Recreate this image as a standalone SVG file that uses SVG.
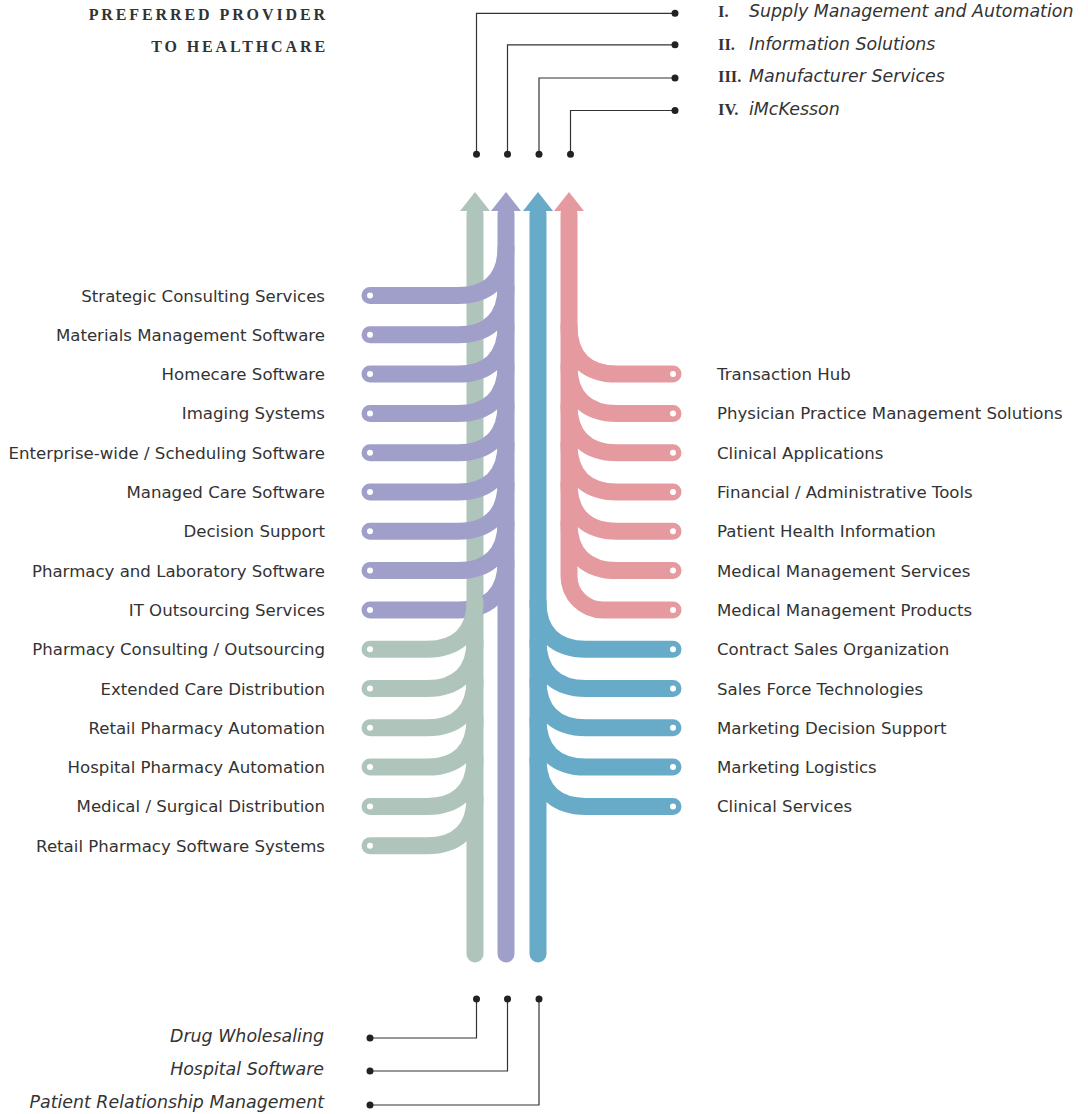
<svg xmlns="http://www.w3.org/2000/svg" width="1088" height="1114" viewBox="0 0 1088 1114">
<style>
.lbl{font-family:"DejaVu Sans","Liberation Sans",sans-serif;font-size:16.6px;fill:#333}
.l{text-anchor:end}
.it{font-family:"DejaVu Sans","Liberation Sans",sans-serif;font-style:italic;font-size:17.4px;fill:#333}
.num{font-family:"Liberation Serif",serif;font-weight:bold;font-size:16.5px;fill:#333}
.title{font-family:"Liberation Serif",serif;font-weight:bold;font-size:16px;letter-spacing:2.9px;fill:#333;text-anchor:end}
.br{fill:none;stroke-width:17;stroke-linecap:round}
.g{stroke:#AFC5BC}.p{stroke:#A09FCA}.b{stroke:#68ABC8}.k{stroke:#E59AA0}
.dot{fill:#fff}
.ln{fill:none;stroke:#333;stroke-width:1.2}
.bd{fill:#222}
</style>

<g id="title">
<text class="title" x="328" y="20">PREFERRED PROVIDER</text>
<text class="title" x="328" y="52">TO HEALTHCARE</text>
</g>

<g id="streams">
<path class="br g" d="M475,214 V954"/>
<polygon fill="#AFC5BC" points="460,211 475,192 490,211"/>
<path class="br p" d="M506,214 V954"/>
<polygon fill="#A09FCA" points="491,211 506,192 521,211"/>
<path class="br b" d="M538,214 V954"/>
<polygon fill="#68ABC8" points="523,211 538,192 553,211"/>
<path class="br k" d="M569,214 V575.9 A34,34 0 0 0 603,609.9 H673"/>
<polygon fill="#E59AA0" points="554,211 569,192 584,211"/>
</g>

<g id="legend-labels">
<g id="legend-1"><text class="num" x="718" y="17">I.</text><text class="it" x="749" y="17">Supply Management and Automation</text></g>
<g id="legend-2"><text class="num" x="718" y="50">II.</text><text class="it" x="749" y="50">Information Solutions</text></g>
<g id="legend-3"><text class="num" x="718" y="82">III.</text><text class="it" x="749" y="82">Manufacturer Services</text></g>
<g id="legend-4"><text class="num" x="718" y="115">IV.</text><text class="it" x="749" y="115">iMcKesson</text></g>
</g>

<g id="connectors">
<path class="ln" d="M675,13.3 H476.5 V154.3"/>
<path class="ln" d="M675,44.8 H507.5 V154.3"/>
<path class="ln" d="M675,78 H539 V154.3"/>
<path class="ln" d="M675,110.5 H570.5 V154.3"/>
<circle class="bd" cx="675" cy="13.3" r="3.5"/>
<circle class="bd" cx="675" cy="44.8" r="3.5"/>
<circle class="bd" cx="675" cy="78" r="3.5"/>
<circle class="bd" cx="675" cy="110.5" r="3.5"/>
<circle class="bd" cx="476.5" cy="154.3" r="3.5"/>
<circle class="bd" cx="507.5" cy="154.3" r="3.5"/>
<circle class="bd" cx="539" cy="154.3" r="3.5"/>
<circle class="bd" cx="570.5" cy="154.3" r="3.5"/>
<path class="ln" d="M476.5,999 V1038 H370"/>
<path class="ln" d="M507.5,999 V1071 H370"/>
<path class="ln" d="M539,999 V1105 H370"/>
<circle class="bd" cx="476.5" cy="999" r="3.5"/>
<circle class="bd" cx="507.5" cy="999" r="3.5"/>
<circle class="bd" cx="539" cy="999" r="3.5"/>
<circle class="bd" cx="370" cy="1038" r="3.5"/>
<circle class="bd" cx="370" cy="1071" r="3.5"/>
<circle class="bd" cx="370" cy="1105" r="3.5"/>
</g>

<g id="bottom-labels">
<text class="it l" x="324" y="1042">Drug Wholesaling</text>
<text class="it l" x="324" y="1075">Hospital Software</text>
<text class="it l" x="324" y="1108">Patient Relationship Management</text>
</g>

<g id="left-purple">
<g id="strategic-consulting"><path class="br p" d="M370,295.5 H458 c28,0 48,-14 48,-48"/><circle class="dot" cx="370" cy="295.5" r="3"/><text class="lbl l" x="325" y="301.5">Strategic Consulting Services</text></g>
<g id="materials-management"><path class="br p" d="M370,334.8 H458 c28,0 48,-14 48,-48"/><circle class="dot" cx="370" cy="334.8" r="3"/><text class="lbl l" x="325" y="340.8">Materials Management Software</text></g>
<g id="homecare"><path class="br p" d="M370,374.1 H458 c28,0 48,-14 48,-48"/><circle class="dot" cx="370" cy="374.1" r="3"/><text class="lbl l" x="325" y="380.1">Homecare Software</text></g>
<g id="imaging"><path class="br p" d="M370,413.4 H458 c28,0 48,-14 48,-48"/><circle class="dot" cx="370" cy="413.4" r="3"/><text class="lbl l" x="325" y="419.4">Imaging Systems</text></g>
<g id="enterprise-wide"><path class="br p" d="M370,452.7 H458 c28,0 48,-14 48,-48"/><circle class="dot" cx="370" cy="452.7" r="3"/><text class="lbl l" x="325" y="458.7">Enterprise-wide / Scheduling Software</text></g>
<g id="managed-care"><path class="br p" d="M370,492 H458 c28,0 48,-14 48,-48"/><circle class="dot" cx="370" cy="492" r="3"/><text class="lbl l" x="325" y="498">Managed Care Software</text></g>
<g id="decision-support"><path class="br p" d="M370,531.3 H458 c28,0 48,-14 48,-48"/><circle class="dot" cx="370" cy="531.3" r="3"/><text class="lbl l" x="325" y="537.3">Decision Support</text></g>
<g id="pharmacy-lab"><path class="br p" d="M370,570.6 H458 c28,0 48,-14 48,-48"/><circle class="dot" cx="370" cy="570.6" r="3"/><text class="lbl l" x="325" y="576.6">Pharmacy and Laboratory Software</text></g>
<g id="it-outsourcing"><path class="br p" d="M370,609.9 H458 c28,0 48,-14 48,-48"/><circle class="dot" cx="370" cy="609.9" r="3"/><text class="lbl l" x="325" y="615.9">IT Outsourcing Services</text></g>
</g>

<g id="left-green">
<g id="pharmacy-consulting"><path class="br g" d="M370,649.2 H427 c28,0 48,-14 48,-48"/><circle class="dot" cx="370" cy="649.2" r="3"/><text class="lbl l" x="325" y="655.2">Pharmacy Consulting / Outsourcing</text></g>
<g id="extended-care"><path class="br g" d="M370,688.5 H427 c28,0 48,-14 48,-48"/><circle class="dot" cx="370" cy="688.5" r="3"/><text class="lbl l" x="325" y="694.5">Extended Care Distribution</text></g>
<g id="retail-automation"><path class="br g" d="M370,727.8 H427 c28,0 48,-14 48,-48"/><circle class="dot" cx="370" cy="727.8" r="3"/><text class="lbl l" x="325" y="733.8">Retail Pharmacy Automation</text></g>
<g id="hospital-automation"><path class="br g" d="M370,767.1 H427 c28,0 48,-14 48,-48"/><circle class="dot" cx="370" cy="767.1" r="3"/><text class="lbl l" x="325" y="773.1">Hospital Pharmacy Automation</text></g>
<g id="med-surg"><path class="br g" d="M370,806.4 H427 c28,0 48,-14 48,-48"/><circle class="dot" cx="370" cy="806.4" r="3"/><text class="lbl l" x="325" y="812.4">Medical / Surgical Distribution</text></g>
<g id="retail-software"><path class="br g" d="M370,845.7 H427 c28,0 48,-14 48,-48"/><circle class="dot" cx="370" cy="845.7" r="3"/><text class="lbl l" x="325" y="851.7">Retail Pharmacy Software Systems</text></g>
</g>

<g id="right-pink">
<g id="transaction-hub"><path class="br k" d="M673,374.1 H617 c-28,0 -48,-14 -48,-48"/><circle class="dot" cx="673" cy="374.1" r="3"/><text class="lbl" x="717" y="380.1">Transaction Hub</text></g>
<g id="physician-practice"><path class="br k" d="M673,413.4 H617 c-28,0 -48,-14 -48,-48"/><circle class="dot" cx="673" cy="413.4" r="3"/><text class="lbl" x="717" y="419.4">Physician Practice Management Solutions</text></g>
<g id="clinical-apps"><path class="br k" d="M673,452.7 H617 c-28,0 -48,-14 -48,-48"/><circle class="dot" cx="673" cy="452.7" r="3"/><text class="lbl" x="717" y="458.7">Clinical Applications</text></g>
<g id="financial-tools"><path class="br k" d="M673,492 H617 c-28,0 -48,-14 -48,-48"/><circle class="dot" cx="673" cy="492" r="3"/><text class="lbl" x="717" y="498">Financial / Administrative Tools</text></g>
<g id="patient-health"><path class="br k" d="M673,531.3 H617 c-28,0 -48,-14 -48,-48"/><circle class="dot" cx="673" cy="531.3" r="3"/><text class="lbl" x="717" y="537.3">Patient Health Information</text></g>
<g id="med-mgmt-services"><path class="br k" d="M673,570.6 H617 c-28,0 -48,-14 -48,-48"/><circle class="dot" cx="673" cy="570.6" r="3"/><text class="lbl" x="717" y="576.6">Medical Management Services</text></g>
<g id="med-mgmt-products"><circle class="dot" cx="673" cy="609.9" r="3"/><text class="lbl" x="717" y="615.9">Medical Management Products</text></g>
</g>

<g id="right-blue">
<g id="contract-sales"><path class="br b" d="M673,649.2 H586 c-28,0 -48,-14 -48,-48"/><circle class="dot" cx="673" cy="649.2" r="3"/><text class="lbl" x="717" y="655.2">Contract Sales Organization</text></g>
<g id="sales-force"><path class="br b" d="M673,688.5 H586 c-28,0 -48,-14 -48,-48"/><circle class="dot" cx="673" cy="688.5" r="3"/><text class="lbl" x="717" y="694.5">Sales Force Technologies</text></g>
<g id="marketing-decision"><path class="br b" d="M673,727.8 H586 c-28,0 -48,-14 -48,-48"/><circle class="dot" cx="673" cy="727.8" r="3"/><text class="lbl" x="717" y="733.8">Marketing Decision Support</text></g>
<g id="marketing-logistics"><path class="br b" d="M673,767.1 H586 c-28,0 -48,-14 -48,-48"/><circle class="dot" cx="673" cy="767.1" r="3"/><text class="lbl" x="717" y="773.1">Marketing Logistics</text></g>
<g id="clinical-services"><path class="br b" d="M673,806.4 H586 c-28,0 -48,-14 -48,-48"/><circle class="dot" cx="673" cy="806.4" r="3"/><text class="lbl" x="717" y="812.4">Clinical Services</text></g>
</g>
</svg>
